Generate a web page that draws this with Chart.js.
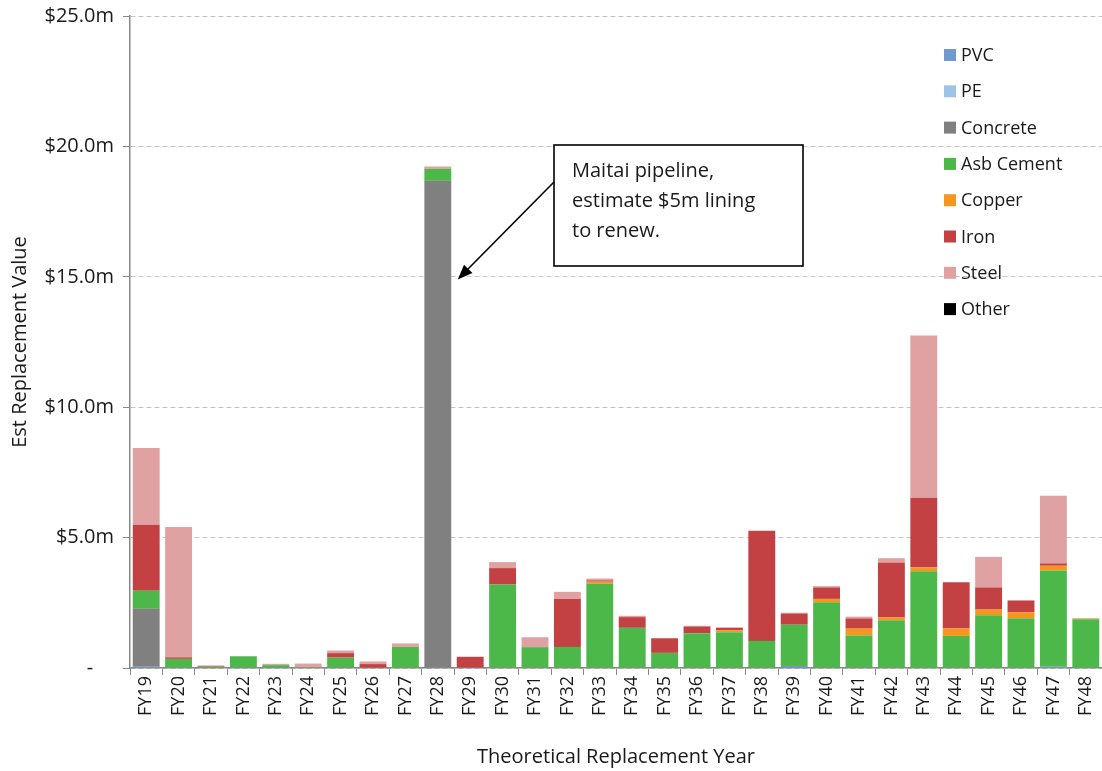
<!DOCTYPE html>
<html>
<head>
<meta charset="utf-8">
<script src="https://cdn.jsdelivr.net/npm/chart.js@4/dist/chart.umd.min.js"></script>
<style>
  html, body { margin: 0; padding: 0; background: #fff; }
  #wrap { width: 1102px; height: 771px; position: relative; }
</style>
</head>
<body>
<div id="wrap"><canvas id="chart"></canvas></div>
<script>
// Replacement value by pipe material, $m per financial year
const years = ['FY19', 'FY20', 'FY21', 'FY22', 'FY23', 'FY24', 'FY25', 'FY26', 'FY27', 'FY28',
               'FY29', 'FY30', 'FY31', 'FY32', 'FY33', 'FY34', 'FY35', 'FY36', 'FY37', 'FY38',
               'FY39', 'FY40', 'FY41', 'FY42', 'FY43', 'FY44', 'FY45', 'FY46', 'FY47', 'FY48'];

const pvc      = [0.05, 0, 0, 0, 0, 0, 0, 0, 0, 0, 0, 0, 0, 0, 0, 0, 0, 0, 0, 0, 0.08, 0, 0, 0, 0, 0, 0, 0, 0.05, 0];
const pe       = [0, 0, 0, 0, 0, 0, 0, 0, 0, 0, 0, 0, 0, 0, 0, 0, 0, 0, 0, 0, 0, 0, 0, 0, 0, 0, 0, 0, 0, 0];
const concrete = [2.22, 0, 0, 0, 0, 0, 0, 0, 0, 18.68, 0, 0, 0, 0, 0, 0, 0, 0, 0, 0, 0, 0, 0, 0, 0, 0, 0, 0, 0, 0];
const asbCement = [0.69, 0.35, 0.05, 0.45, 0.11, 0.03, 0.40, 0.02, 0.81, 0.46,
                   0, 3.20, 0.80, 0.81, 3.23, 1.54, 0.58, 1.33, 1.37, 1.04,
                   1.58, 2.52, 1.25, 1.83, 3.71, 1.23, 2.02, 1.91, 3.69, 1.87];
const copper   = [0, 0, 0, 0, 0, 0, 0, 0, 0, 0, 0, 0, 0, 0, 0.08, 0, 0, 0, 0.08, 0,
                  0, 0.13, 0.26, 0.11, 0.14, 0.28, 0.22, 0.23, 0.18, 0.03];
const iron     = [2.53, 0.06, 0.03, 0, 0, 0, 0.17, 0.13, 0, 0,
                  0.43, 0.63, 0, 1.85, 0.05, 0.41, 0.56, 0.26, 0.09, 4.22,
                  0.43, 0.44, 0.39, 2.11, 2.68, 1.78, 0.85, 0.45, 0.09, 0];
const steel    = [2.95, 5.00, 0.02, 0, 0.05, 0.14, 0.10, 0.10, 0.13, 0.09,
                  0, 0.23, 0.38, 0.26, 0.07, 0.05, 0, 0.03, 0.02, 0,
                  0.03, 0.05, 0.07, 0.16, 6.22, 0, 1.17, 0, 2.59, 0.02];
const other    = [0, 0, 0, 0, 0, 0, 0, 0, 0, 0, 0, 0, 0, 0, 0, 0, 0, 0, 0, 0, 0, 0, 0, 0, 0, 0, 0, 0, 0, 0];

const yTicks = [0, 5, 10, 15, 20, 25];
const noteLines = ['Maitai pipeline,', 'estimate $5m lining', 'to renew.'];

const FONT = "'Open Sans', 'DejaVu Sans', sans-serif";
const TEXT = '#1a1a1a';

const series = [
    { label: 'PVC', data: pvc, color: '#7199d0' },
    { label: 'PE', data: pe, color: '#9dc3e6' },
    { label: 'Concrete', data: concrete, color: '#808080' },
    { label: 'Asb Cement', data: asbCement, color: '#4db84a' },
    { label: 'Copper', data: copper, color: '#f7961e' },
    { label: 'Iron', data: iron, color: '#c34142' },
    { label: 'Steel', data: steel, color: '#e0a1a3' },
    { label: 'Other', data: other, color: '#000000' }
];

// legend sits inside the plot, top right, like the Excel original
const sideLegend = {
    id: 'sideLegend',
    afterDraw(chart) {
        const ctx = chart.ctx;
        ctx.save();
        ctx.font = '18px ' + FONT;
        ctx.textBaseline = 'middle';
        series.forEach((s, i) => {
            const y = 55 + i * 36.3;
            ctx.fillStyle = s.color;
            ctx.fillRect(944, y - 6, 12, 12);
            ctx.fillStyle = TEXT;
            ctx.fillText(s.label, 961, y + 1);
        });
        ctx.restore();
    }
};

// callout box + arrow pointing at the FY28 bar
const callout = {
    id: 'callout',
    afterDraw(chart) {
        const ctx = chart.ctx;
        const xs = chart.scales.x, ys = chart.scales.y;
        const tipX = xs.getPixelForValue(9) + 20;
        const tipY = ys.getPixelForValue(14.9);
        const box = { x: 554, y: 145, w: 249, h: 121 };
        ctx.save();
        ctx.fillStyle = '#fff';
        ctx.fillRect(box.x, box.y, box.w, box.h);
        ctx.strokeStyle = '#000';
        ctx.lineWidth = 1.6;
        ctx.strokeRect(box.x, box.y, box.w, box.h);

        // arrow
        const sx = box.x, sy = 182;
        const ang = Math.atan2(tipY - sy, tipX - sx);
        const head = 16;
        ctx.beginPath();
        ctx.moveTo(sx, sy);
        ctx.lineTo(tipX - Math.cos(ang) * head * 0.8, tipY - Math.sin(ang) * head * 0.8);
        ctx.stroke();
        ctx.beginPath();
        ctx.moveTo(tipX, tipY);
        ctx.lineTo(tipX - head * Math.cos(ang - 0.38), tipY - head * Math.sin(ang - 0.38));
        ctx.lineTo(tipX - head * Math.cos(ang + 0.38), tipY - head * Math.sin(ang + 0.38));
        ctx.closePath();
        ctx.fillStyle = '#000';
        ctx.fill();

        ctx.fillStyle = TEXT;
        ctx.font = '20px ' + FONT;
        ctx.textBaseline = 'alphabetic';
        noteLines.forEach((t, i) => ctx.fillText(t, 572, 177 + i * 30));
        ctx.restore();
    }
};

new Chart(document.getElementById('chart'), {
    type: 'bar',
    data: {
        labels: years,
        datasets: series.map(s => ({
            label: s.label,
            data: s.data,
            backgroundColor: s.color,
            borderWidth: 0,
            barPercentage: 0.83,
            categoryPercentage: 1.0
        }))
    },
    options: {
        responsive: true,
        maintainAspectRatio: false,
        animation: false,
        layout: { padding: { top: 16, right: 0, left: 0, bottom: 0 } },
        plugins: {
            legend: { display: false },
            tooltip: { enabled: false }
        },
        scales: {
            x: {
                stacked: true,
                grid: {
                    drawOnChartArea: false,
                    drawTicks: true,
                    tickLength: 7,
                    tickColor: '#888',
                    offset: true
                },
                border: { color: '#888', width: 1.5 },
                ticks: {
                    color: TEXT,
                    font: { family: FONT, size: 18 },
                    minRotation: 90,
                    maxRotation: 90,
                    padding: 1,
                    autoSkip: false
                },
                title: {
                    display: true,
                    text: 'Theoretical Replacement Year',
                    color: TEXT,
                    font: { family: FONT, size: 20 },
                    padding: { top: 0, bottom: 2 }
                },
                afterFit(scale) {
                    scale.height = 103;
                    scale.paddingLeft = 0;
                    scale.paddingRight = 0;
                }
            },
            y: {
                stacked: true,
                min: 0,
                max: 25,
                afterBuildTicks(scale) { scale.ticks = yTicks.map(v => ({ value: v })); },
                grid: {
                    color: '#c4c4c4',
                    lineWidth: 1,
                    drawTicks: true,
                    tickLength: 7,
                    tickColor: '#888',
                    tickBorderDash: []
                },
                border: { color: '#888', width: 1.5, dash: [5, 3] },
                ticks: {
                    color: TEXT,
                    font: { family: FONT, size: 20 },
                    padding: 9,
                    callback: v => v === 0 ? '-    ' : '$' + v.toFixed(1) + 'm'
                },
                title: {
                    display: true,
                    text: 'Est Replacement Value',
                    color: TEXT,
                    font: { family: FONT, size: 20 },
                    padding: { top: 8, bottom: 0 }
                },
                afterFit(scale) {
                    scale.width = 130;
                    scale.paddingTop = 0;
                    scale.paddingBottom = 0;
                }
            }
        }
    },
    plugins: [sideLegend, callout]
});
</script>
</body>
</html>
